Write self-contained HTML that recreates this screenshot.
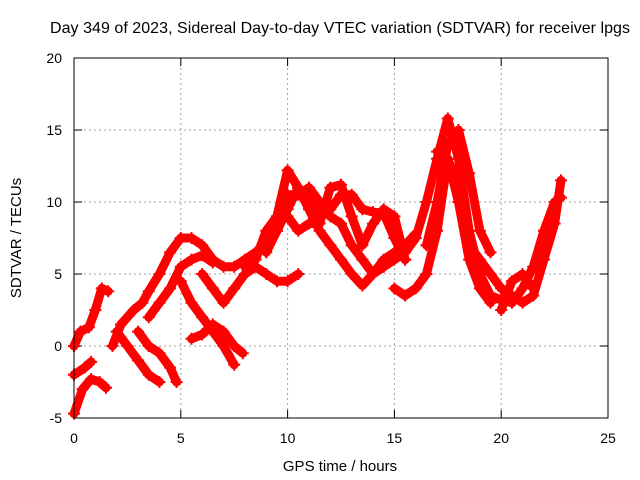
<!DOCTYPE html>
<html><head><meta charset="utf-8"><style>
body{margin:0;background:#fff}
svg{display:block;font-family:"Liberation Sans",sans-serif}
</style></head><body>
<svg id="c" width="640" height="480">
<rect width="640" height="480" fill="#fff"/>
<text x="340" y="33" font-size="16" text-anchor="middle" textLength="580">Day 349 of 2023, Sidereal Day-to-day VTEC variation (SDTVAR) for receiver lpgs</text>
<text x="340" y="471" font-size="15" text-anchor="middle">GPS time / hours</text>
<text x="21" y="238" font-size="15" text-anchor="middle" transform="rotate(-90 21 238)">SDTVAR / TECUs</text>
<g id="grid"></g><g id="ticks"></g><g id="data"></g>
<rect x="74" y="58" width="534" height="360" fill="none" stroke="#000" stroke-width="1"/>
</svg>
<script>
const xTicks=[0,5,10,15,20,25];
const yTicks=[-5,0,5,10,15,20];
const trackA=[[0,-4.7],[0.4,-3],[0.8,-2.3],[1.2,-2.5],[1.5,-2.9]];
const trackB=[[0,-2],[0.5,-1.5],[0.8,-1.1]];
const trackC=[[0,0],[0.3,1],[0.7,1.3],[1,2.5],[1.3,4],[1.6,3.8]];
const trackD=[[1.8,0],[2.2,1.5],[2.8,2.5],[3.2,3],[3.5,3.8],[4,5],[4.5,6.5],[5,7.5],[5.5,7.5],[6,7],[6.5,6],[7,5.5],[7.5,5.5],[8,6],[8.5,6.5],[9,7],[9.5,8],[10,10.5],[10.5,10.5],[11,11],[11.5,10],[12,9],[12.5,8.5],[13,7],[13.5,6],[14,5],[14.5,5.5],[15,6],[15.5,6.5],[16,7.5],[16.5,10],[17,13],[17.5,15.8],[18,13],[18.5,8],[19,5],[19.5,3.5],[20,3.2],[20.5,3],[21,4],[21.5,5.5],[22,8],[22.5,10],[22.8,10.3]];
const trackE=[[2,1],[2.5,0],[3,-1],[3.5,-2],[4,-2.5]];
const trackF=[[3,1],[3.5,0],[4,-0.5],[4.5,-1.5],[4.8,-2.5]];
const trackG=[[3.5,2],[4,3],[4.5,4],[5,5.5],[5.5,6],[6,6.3],[6.5,5.8]];
const trackH=[[5,4.5],[5.5,3],[6,2],[6.5,1],[7,0],[7.5,-1.3]];
const trackI=[[5.5,0.5],[6,0.8],[6.5,1.5],[7,1],[7.5,0],[7.9,-0.5]];
const trackJ=[[6,5],[6.5,4],[7,3],[7.5,4],[8,5],[8.5,5.5],[9,5],[9.5,4.5],[10,4.5],[10.5,5]];
const trackK=[[8,5.5],[8.5,6],[9,8],[9.5,9],[10,12.2],[10.5,11],[11,10],[11.5,9],[12,9.5],[12.5,10.5],[13,10.5],[13.5,9.5],[14,9.3],[14.5,9.2],[15,7.5],[15.5,6]];
const trackL=[[9,6.5],[9.5,8],[10,9.5],[10.5,11],[11,9.5],[11.5,8],[12,7],[12.5,6],[13,5],[13.5,4.2],[14,5],[14.5,6],[15,6.5],[15.5,7],[16,7.8]];
const trackM=[[10,9],[10.5,8],[11,8.5],[11.5,8.5],[12,11],[12.5,11.2],[13,9],[13.5,7],[14,8.5],[14.5,9.5],[15,9],[15.5,6]];
const trackN=[[15,4],[15.5,3.5],[16,4],[16.5,5],[17,8],[17.5,13],[18,11],[18.5,7],[19,6],[19.5,5]];
const trackO=[[16.5,7],[17,10],[17.5,14],[18,15],[18.5,12],[19,8],[19.5,6.5]];
const trackP=[[17,13.5],[17.5,13],[18,10],[18.5,6],[19,4],[19.5,3]];
const trackQ=[[19.5,5],[20,4],[20.5,3.5],[21,3],[21.5,3.5],[22,6],[22.5,8.5],[22.8,11.5]];
const trackR=[[20,2.5],[20.5,4.5],[21,5],[21.5,4]];
const tracks=[trackA,trackB,trackC,trackD,trackE,trackF,trackG,trackH,trackI,trackJ,trackK,trackL,trackM,trackN,trackO,trackP,trackQ,trackR];
const X=v=>74+(v-0)/25*534, Y=v=>418-(v+5)/25*360;
const NS="http://www.w3.org/2000/svg";
const mk=(t,a,p)=>{const e=document.createElementNS(NS,t);for(const k in a)e.setAttribute(k,a[k]);p.appendChild(e);return e;};
const grid=document.getElementById('grid'),ticks=document.getElementById('ticks'),data=document.getElementById('data');
xTicks.forEach(t=>{
  if(t>0&&t<25){const g=mk('line',{x1:X(t),x2:X(t),y1:58,y2:418,stroke:'#a0a0a0','stroke-dasharray':'2,3'},grid);
  
  }
  mk('line',{x1:X(t),x2:X(t),y1:418,y2:410,stroke:'#000'},ticks);
  mk('line',{x1:X(t),x2:X(t),y1:58,y2:66,stroke:'#000'},ticks);
  const l=mk('text',{x:X(t),y:443,'font-size':14,'text-anchor':'middle'},ticks);l.textContent=t;
  
  
});
yTicks.forEach(t=>{
  if(t>-5&&t<20){const g=mk('line',{x1:74,x2:608,y1:Y(t),y2:Y(t),stroke:'#a0a0a0','stroke-dasharray':'2,3'},grid);
  
  }
  mk('line',{x1:74,x2:82,y1:Y(t),y2:Y(t),stroke:'#000'},ticks);
  mk('line',{x1:608,x2:600,y1:Y(t),y2:Y(t),stroke:'#000'},ticks);
  const l=mk('text',{x:62,y:Y(t)+5,'font-size':14,'text-anchor':'end'},ticks);l.textContent=t;
  
  
});
tracks.forEach(tr=>{
  const pl=mk('polyline',{points:tr.map(p=>X(p[0])+','+Y(p[1])).join(' '),fill:'none',stroke:'#ff0000','stroke-width':9,'stroke-linejoin':'round','stroke-linecap':'round'},data);
  
  
  tr.forEach(p=>{
    const m=mk('path',{d:`M${X(p[0])-6},${Y(p[1])}h12M${X(p[0])},${Y(p[1])-6}v12`,stroke:'#ff0000','stroke-width':2},data);
    
    
  });
});
</script>
</body></html>
